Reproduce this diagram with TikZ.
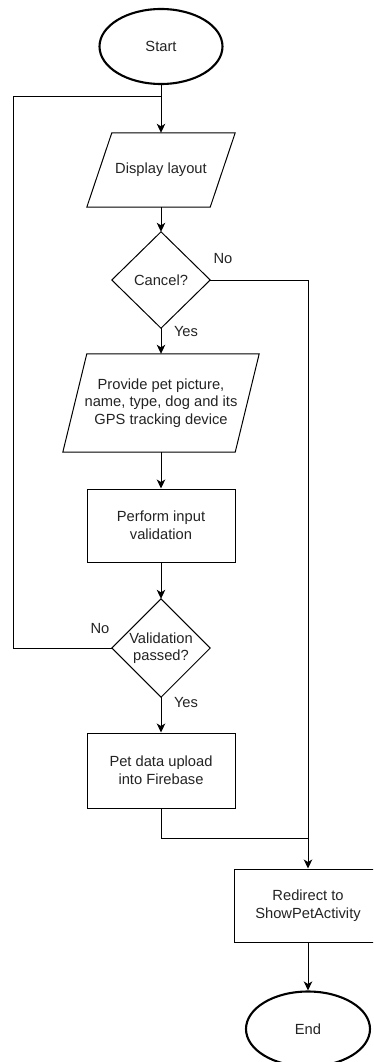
\documentclass[tikz,border=0pt]{standalone}
\usepackage{fontspec}
\setmainfont{Liberation Sans}
\usetikzlibrary{arrows.meta,shapes.geometric}
\definecolor{ink}{RGB}{35,35,35}
\tikzset{
  every node/.style={font=\fontsize{14.7}{17.6}\selectfont, text=ink, align=center, inner sep=0pt},
  line/.style={draw=black, line width=1pt},
  arrowline/.style={line, -{Stealth[length=9pt,width=8.5pt,inset=2.5pt]}},
  terminal/.style={ellipse, draw=black, line width=2.1pt, minimum width=123pt, minimum height=75pt},
  frame/.style={rectangle, minimum width=#1, minimum height=74pt},
  frame/.default=148pt,
  process/.style={rectangle, line, minimum width=148pt, minimum height=74pt},
  lbl/.style={font=\fontsize{14.7}{17.6}\selectfont}
}
\begin{document}
\begin{tikzpicture}[x=1pt, y=-1pt]
\useasboundingbox (0,0) rectangle (373,1062);
\clip (0,0) rectangle (373,1062);

% main column
\node[terminal] (start) at (161,46.5) {Start};
\node[frame=148pt, minimum height=74pt] (display) at (161,170) {Display layout};
\node[rectangle, minimum width=98pt, minimum height=96pt] (cancel) at (161,280) {Cancel?};
\node[frame=196pt, minimum height=98pt] (provide) at (161,403) {Provide pet picture,\\name, type, dog and its\\GPS tracking device};
\node[process, minimum height=73pt] (validate) at (161,525.5) {Perform input\\validation};
\node[rectangle, minimum width=98pt, minimum height=98pt] (passed) at (161,648) {Validation\\passed?};
\node[process, minimum height=75pt] (upload) at (161,770.5) {Pet data upload\\into Firebase};

% right column
\node[process, minimum height=73pt] (redirect) at (308,905.5) {Redirect to\\ShowPetActivity};
\node[terminal, minimum width=124pt] (end) at (308,1029) {End};

% input shapes (parallelograms)
\draw[line] ([xshift=25pt]display.north west) -- (display.north east)
  -- ([xshift=-25pt]display.south east) -- (display.south west) -- cycle;
\draw[line] ([xshift=24pt]provide.north west) -- (provide.north east)
  -- ([xshift=-24pt]provide.south east) -- (provide.south west) -- cycle;

% decisions (diamonds)
\draw[line] (cancel.north) -- (cancel.east) -- (cancel.south) -- (cancel.west) -- cycle;
\draw[line] (passed.north) -- (passed.east) -- (passed.south) -- (passed.west) -- cycle;

% junction points
\coordinate (loopjoin) at (161,97);
\coordinate (loopcorner) at (13.5,97);
\coordinate (mergejoin) at (308,838);

% connectors
\draw[arrowline] (start.south) -- (display.north);
\draw[arrowline] (display.south) -- (cancel.north);
\draw[arrowline] (cancel.south) -- (provide.north);
\draw[arrowline] (provide.south) -- (validate.north);
\draw[arrowline] (validate.south) -- (passed.north);
\draw[arrowline] (passed.south) -- (upload.north);
\draw[line] (passed.west) -| (loopcorner) -- (loopjoin);
\draw[arrowline] (cancel.east) -| (redirect.north);
\draw[line] (upload.south) |- (mergejoin);
\draw[arrowline] (redirect.south) -- (end.north);

% branch labels
\node[lbl] (nocancel) at (223,259) {No};
\node[lbl] (yescancel) at (186,332) {Yes};
\node[lbl] (nopassed) at (100,629) {No};
\node[lbl] (yespassed) at (186,703) {Yes};
\end{tikzpicture}
\end{document}
